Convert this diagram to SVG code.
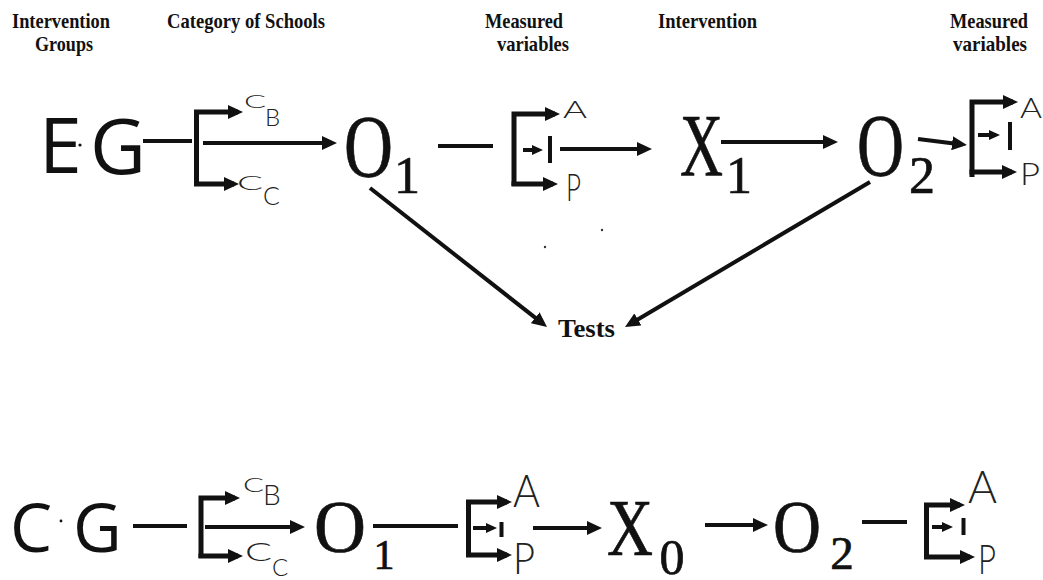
<svg xmlns="http://www.w3.org/2000/svg" width="1043" height="580" viewBox="0 0 1043 580">
<style>
.hd{font-family:"Liberation Serif","Times New Roman",serif;font-weight:bold;font-size:21px;fill:#111}
.ts{font-family:"Liberation Serif","Times New Roman",serif;font-weight:bold;font-size:26px;fill:#111}
.sans{font-family:"Open Sans","Liberation Sans",sans-serif;fill:#111}
.ser{font-family:"Liberation Serif","Times New Roman",serif;fill:#111;stroke:#111;stroke-width:0.7}
.hw{font-family:"Lato","DejaVu Sans",sans-serif;font-weight:300;fill:#222}
.ln{fill:none;stroke:#111;stroke-width:4}
.br{fill:none;stroke:#111;stroke-width:5}
.bar{stroke:#111;stroke-width:4}
</style>
<defs>
<marker id="ah" markerUnits="userSpaceOnUse" markerWidth="16" markerHeight="14" refX="10" refY="7" orient="auto"><path d="M0,0 L15,7 L0,14 z" fill="#111"/></marker>
<marker id="ahs" markerUnits="userSpaceOnUse" markerWidth="12" markerHeight="11" refX="7" refY="5" orient="auto"><path d="M0,0 L11,5 L0,10 z" fill="#111"/></marker>
</defs>
<rect width="1043" height="580" fill="#fff"/>

<g id="headers">
<text class="hd" x="12" y="28" textLength="98" lengthAdjust="spacingAndGlyphs">Intervention</text>
<text class="hd" x="35" y="51" textLength="58" lengthAdjust="spacingAndGlyphs">Groups</text>
<text class="hd" x="167" y="28" textLength="158" lengthAdjust="spacingAndGlyphs">Category of Schools</text>
<text class="hd" x="485" y="28" textLength="78" lengthAdjust="spacingAndGlyphs">Measured</text>
<text class="hd" x="497" y="51" textLength="72" lengthAdjust="spacingAndGlyphs">variables</text>
<text class="hd" x="658" y="28" textLength="99" lengthAdjust="spacingAndGlyphs">Intervention</text>
<text class="hd" x="950" y="28" textLength="78" lengthAdjust="spacingAndGlyphs">Measured</text>
<text class="hd" x="953" y="51" textLength="74" lengthAdjust="spacingAndGlyphs">variables</text>
</g>

<g id="connectors">
<path class="ln" d="M143 141 H192"/>
<path class="br" d="M196.5 186 V112 H238" marker-end="url(#ah)"/>
<path class="br" d="M194 184 H234" marker-end="url(#ah)"/>
<path class="ln" d="M203 143 H332" marker-end="url(#ah)"/>
<path class="ln" d="M438 146 H493"/>
<path class="br" d="M514 186 V114 H555" marker-end="url(#ah)"/>
<path class="br" d="M511.5 184 H553" marker-end="url(#ah)"/>
<path class="ln" d="M523 150 H539" marker-end="url(#ahs)"/>
<path class="bar" d="M550 136 V163"/>
<path class="ln" d="M560 149 H647" marker-end="url(#ah)"/>
<path class="ln" d="M721 142 H833" marker-end="url(#ah)"/>
<path class="ln" d="M918 139 L962 144.4" marker-end="url(#ah)"/>
<path class="br" d="M972 177 V102 H1013" marker-end="url(#ah)"/>
<path class="br" d="M969.5 172 H1012" marker-end="url(#ah)"/>
<path class="ln" d="M978 135 H996" marker-end="url(#ahs)"/>
<path class="bar" d="M1010 122 V150"/>
<path class="ln" d="M370 188 L543.1 323.9" marker-end="url(#ah)"/>
<path class="ln" d="M870 182 L629.3 324.5" marker-end="url(#ah)"/>

<path class="ln" d="M133 526 H187"/>
<path class="br" d="M201 558 V498 H235" marker-end="url(#ah)"/>
<path class="br" d="M198.5 556 H238" marker-end="url(#ah)"/>
<path class="ln" d="M205 527 H300" marker-end="url(#ah)"/>
<path class="ln" d="M373 526 H458"/>
<path class="br" d="M468.5 557 V502 H507" marker-end="url(#ah)"/>
<path class="br" d="M466 555 H507" marker-end="url(#ah)"/>
<path class="ln" d="M473 528 H493" marker-end="url(#ahs)"/>
<path class="bar" d="M501.5 522 V537"/>
<path class="ln" d="M533 528 H597" marker-end="url(#ah)"/>
<path class="ln" d="M705 525 H763" marker-end="url(#ah)"/>
<path class="ln" d="M862 522 H907"/>
<path class="br" d="M926.5 558 V505 H960" marker-end="url(#ah)"/>
<path class="br" d="M924 557 H970" marker-end="url(#ah)"/>
<path class="ln" d="M932 527 H949" marker-end="url(#ahs)"/>
<path class="bar" d="M963.5 518 V535"/>
</g>

<g id="EG">
<text class="sans" x="39" y="173" font-size="77">E</text>
<circle cx="80" cy="145" r="1.6" fill="#111"/>
<text class="sans" x="90" y="174" font-size="77">G</text>
</g>
<g id="top-categories">
<text class="hw" x="244" y="108" font-size="17" textLength="22" lengthAdjust="spacingAndGlyphs">C</text>
<text class="hw" x="265" y="126" font-size="24">B</text>
<text class="hw" x="237" y="190" font-size="19" textLength="26" lengthAdjust="spacingAndGlyphs">C</text>
<text class="hw" x="263" y="205" font-size="25">C</text>
</g>
<g id="top-O1">
<text class="ser" x="344" y="176" font-size="88" textLength="49" lengthAdjust="spacingAndGlyphs">O</text>
<text class="ser" x="407" y="193" font-size="52" text-anchor="middle">1</text>
</g>
<g id="top-mv1">
<text class="hw" x="563" y="118" font-size="24" textLength="24" lengthAdjust="spacingAndGlyphs">A</text>
<text class="hw" x="566" y="201" font-size="38" textLength="15" lengthAdjust="spacingAndGlyphs">P</text>
</g>
<g id="top-X1">
<text class="ser" x="680" y="175" font-size="88" textLength="43" lengthAdjust="spacingAndGlyphs">X</text>
<text class="ser" x="739" y="193" font-size="52" text-anchor="middle">1</text>
</g>
<g id="top-O2">
<text class="ser" x="857" y="175" font-size="88" textLength="47" lengthAdjust="spacingAndGlyphs">O</text>
<text class="ser" x="922" y="193" font-size="52" text-anchor="middle">2</text>
</g>
<g id="top-mv2">
<text class="hw" x="1020" y="118" font-size="28" textLength="22" lengthAdjust="spacingAndGlyphs">A</text>
<text class="hw" x="1020" y="185" font-size="32" textLength="20" lengthAdjust="spacingAndGlyphs">P</text>
</g>
<g id="tests">
<text class="ts" x="558" y="337" textLength="57" lengthAdjust="spacingAndGlyphs">Tests</text>
<circle cx="545" cy="247" r="1.2" fill="#333"/>
<circle cx="602" cy="230" r="1.2" fill="#333"/>
</g>

<g id="CG">
<text class="sans" x="10" y="552" font-size="67">C</text>
<circle cx="61" cy="521" r="1.4" fill="#111"/>
<text class="sans" x="73" y="552" font-size="67">G</text>
</g>
<g id="bottom-categories">
<text class="hw" x="243" y="492" font-size="19" textLength="21" lengthAdjust="spacingAndGlyphs">C</text>
<text class="hw" x="263" y="505" font-size="28">B</text>
<text class="hw" x="245" y="561" font-size="25" textLength="27" lengthAdjust="spacingAndGlyphs">C</text>
<text class="hw" x="272" y="576" font-size="24">C</text>
</g>
<g id="bottom-O1">
<text class="ser" x="314" y="552" font-size="74" textLength="52" lengthAdjust="spacingAndGlyphs">O</text>
<text class="ser" x="384" y="569" font-size="42" text-anchor="middle">1</text>
</g>
<g id="bottom-mv1">
<text class="hw" x="513" y="507" font-size="46" textLength="27" lengthAdjust="spacingAndGlyphs">A</text>
<text class="hw" x="513" y="574" font-size="44" textLength="22" lengthAdjust="spacingAndGlyphs">P</text>
</g>
<g id="bottom-X0">
<text class="ser" x="607" y="555" font-size="80" textLength="46" lengthAdjust="spacingAndGlyphs">X</text>
<text class="ser" x="672" y="574" font-size="50" text-anchor="middle">0</text>
</g>
<g id="bottom-O2">
<text class="ser" x="773" y="552" font-size="74" textLength="48" lengthAdjust="spacingAndGlyphs">O</text>
<text class="ser" x="842" y="569" font-size="47" text-anchor="middle">2</text>
</g>
<g id="bottom-mv2">
<text class="hw" x="968" y="503" font-size="46" textLength="29" lengthAdjust="spacingAndGlyphs">A</text>
<text class="hw" x="978" y="574" font-size="42" textLength="18" lengthAdjust="spacingAndGlyphs">P</text>
</g>
</svg>
